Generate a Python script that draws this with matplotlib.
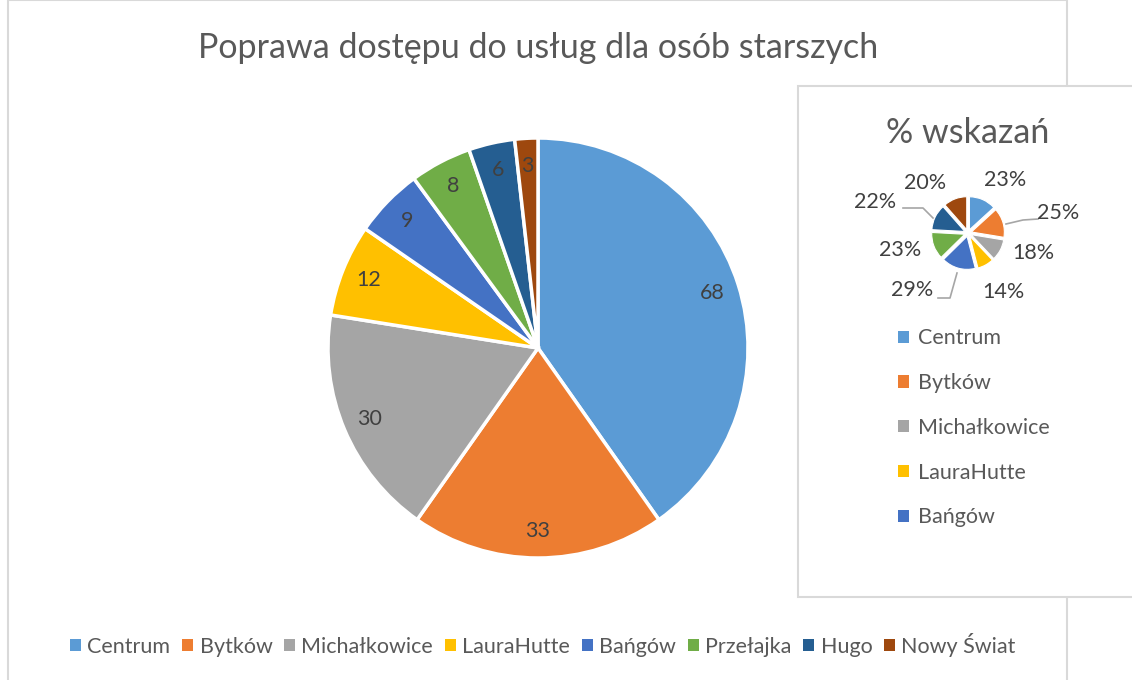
import matplotlib.pyplot as plt
from matplotlib.patches import Rectangle, Patch

plt.rcParams['font.family'] = ['Lato', 'DejaVu Sans']

# ____________________________ Data ____________________________
districts = ["Centrum", "Bytków", "Michałkowice", "LauraHutte",
             "Bańgów", "Przełajka", "Hugo", "Nowy Świat"]
counts = [68, 33, 30, 12, 9, 8, 6, 3]
pct_values = [23, 25, 18, 14, 29, 23, 22, 20]
pct_labels = [f"{p}%" for p in pct_values]

colors = ["#5B9BD5", "#ED7D31", "#A5A5A5", "#FFC000",
          "#4472C4", "#70AD47", "#255E91", "#9E480E"]

# layout of the small chart labels (pixels from pie centre)
pct_label_pos = [(37, 53), (90, 20), (65, -20), (35, -59),
                 (-56, -57), (-68, -17), (-93, 31), (-43, 50)]
leaders = {1: [(38, 9), (55, 13), (70, 14)],
           4: [(-11, -40), (-18, -65), (-30, -65)],
           6: [(-35, 15), (-45, 25), (-65, 25)]}

W, H = 1132, 680
TXT = "#404040"
LEG = "#595959"
BORDER = "#D9D9D9"


def fx(px):
    return px / W


def fy(py):
    return 1 - py / H


fig = plt.figure(figsize=(W / 100, H / 100), dpi=100)

# chart borders
fig.patches.append(Rectangle((fx(8), fy(690)), fx(1067 - 8), 690 / H,
                             transform=fig.transFigure, facecolor="white",
                             edgecolor=BORDER, linewidth=1.5, zorder=0))
fig.patches.append(Rectangle((fx(798), fy(597)), fx(400), (597 - 86) / H,
                             transform=fig.transFigure, facecolor="white",
                             edgecolor=BORDER, linewidth=1.5, zorder=1))

# ___________________________ Main pie ___________________________
ax = fig.add_axes([fx(328), fy(558), fx(420), 420 / H])
ax.set_zorder(3)
ax.patch.set_visible(False)
wedges, _, autotexts = ax.pie(counts, colors=colors, startangle=90,
                              counterclock=False, autopct="%1.0f",
                              pctdistance=0.87,
                              wedgeprops=dict(edgecolor="white", linewidth=2.5))
for t, v in zip(autotexts, counts):
    t.set_text(str(v))
    t.set_color(TXT)
    t.set_fontsize(15.5)
ax.set_xlim(-1.0, 1.0)
ax.set_ylim(-1.0, 1.0)

fig.text(fx(538), fy(48), "Poprawa dostępu do usług dla osób starszych",
         ha="center", va="center", fontsize=24.5, color=LEG, zorder=5)

handles = [Patch(facecolor=c, edgecolor="none") for c in colors]
leg = fig.legend(handles, districts, loc="center", bbox_to_anchor=(fx(543), fy(645)),
                 ncol=8, frameon=False, fontsize=15.5, labelcolor=LEG,
                 handlelength=0.5, handleheight=0.5, handletextpad=0.3,
                 columnspacing=0.55)
leg.set_zorder(5)

# ___________________________ Small pie ___________________________
ax2 = fig.add_axes([fx(848), fy(313), fx(240), 160 / H])
ax2.set_zorder(3)
ax2.patch.set_visible(False)
ax2.pie(pct_values, colors=colors, startangle=90, counterclock=False,
        radius=33, explode=[3.5] * 8, center=(0, 0),
        wedgeprops=dict(edgecolor="white", linewidth=0.8))
ax2.set_xlim(-120, 120)
ax2.set_ylim(-80, 80)
ax2.set_aspect("equal")
ax2.axis("off")
for i, (lab, (dx, dy)) in enumerate(zip(pct_labels, pct_label_pos)):
    ax2.text(dx, dy, lab, ha="center", va="center", fontsize=15.5, color=TXT)
for i, pts in leaders.items():
    xs, ys = zip(*pts)
    ax2.plot(xs, ys, color="#A6A6A6", linewidth=1.2)

fig.text(fx(968), fy(133), "% wskazań", ha="center", va="center",
         fontsize=24.5, color=LEG, zorder=5)

leg2 = fig.legend(handles[:5], districts[:5], loc="upper left",
                  bbox_to_anchor=(fx(879), fy(309)), frameon=False, fontsize=15.5,
                  labelcolor=LEG, handlelength=0.5, handleheight=0.5,
                  handletextpad=0.4, labelspacing=1.15)
leg2.set_zorder(5)

fig.savefig("out.png", dpi=100)
